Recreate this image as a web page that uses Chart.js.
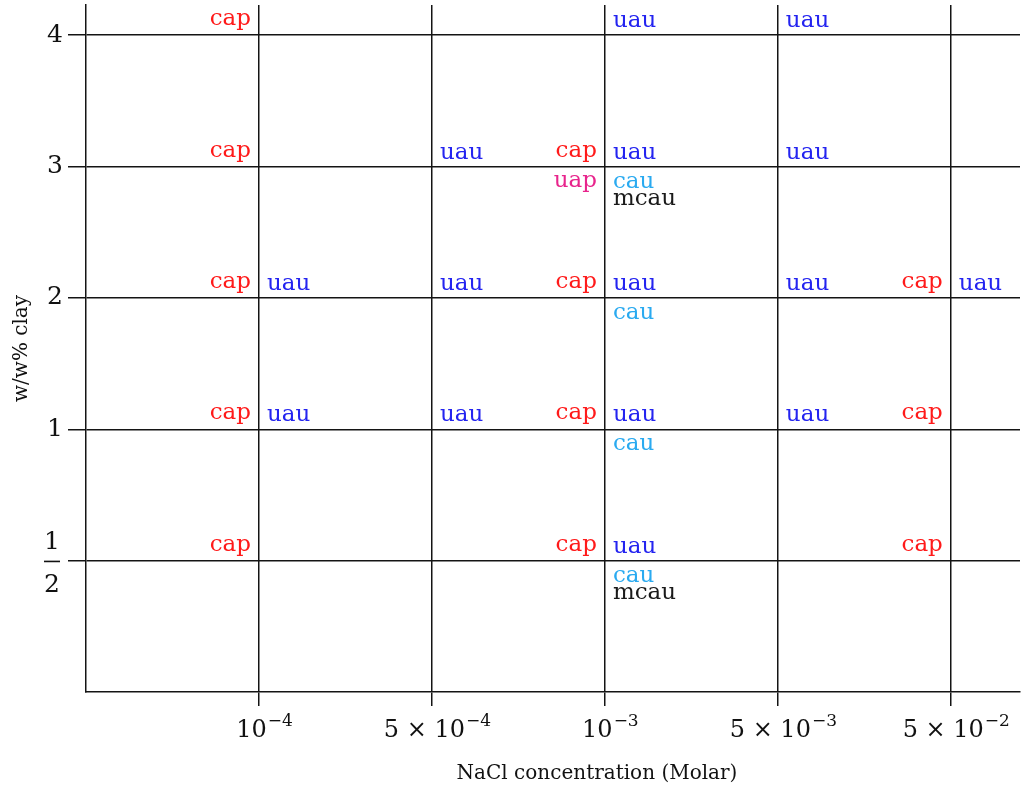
<!DOCTYPE html>
<html>
<head>
<meta charset="utf-8">
<script src="https://cdn.jsdelivr.net/npm/chart.js@4.4.1/dist/chart.umd.min.js"></script>
<style>
    html, body { margin: 0; padding: 0; background: #fff; }
    #wrap { width: 1024px; height: 789px; position: relative; }
</style>
</head>
<body>
<div id="wrap"><canvas id="phaseChart"></canvas></div>
<script>
// NaCl concentration (Molar), one grid column each
const concentrations = ['1e-4', '5e-4', '1e-3', '5e-3', '5e-2'];
// clay content (w/w%), one grid row each
const clayLevels = ['1/2', '1', '2', '3', '4'];

// phases seen, as [concentration, clay]
const capPoints = [
    ['1e-4', '4'], ['1e-4', '3'], ['1e-4', '2'], ['1e-4', '1'], ['1e-4', '1/2'],
    ['1e-3', '3'], ['1e-3', '2'], ['1e-3', '1'], ['1e-3', '1/2'],
    ['5e-2', '2'], ['5e-2', '1'], ['5e-2', '1/2']
];
const uauPoints = [
    ['1e-4', '2'], ['1e-4', '1'],
    ['5e-4', '3'], ['5e-4', '2'], ['5e-4', '1'],
    ['1e-3', '4'], ['1e-3', '3'], ['1e-3', '2'], ['1e-3', '1'], ['1e-3', '1/2'],
    ['5e-3', '4'], ['5e-3', '3'], ['5e-3', '2'], ['5e-3', '1'],
    ['5e-2', '2']
];
const uapPoints = [['1e-3', '3']];
const cauPoints = [['1e-3', '3'], ['1e-3', '2'], ['1e-3', '1'], ['1e-3', '1/2']];
const mcauPoints = [['1e-3', '3'], ['1e-3', '1/2']];

const FONT = '"DejaVu Serif", "Liberation Serif", serif';
const LINE = '#141414';

// where each phase name sits around its grid crossing
const placement = {
    cap:  { align: 'right', dx: -8, dy: -10 },
    uau:  { align: 'left',  dx: 8,  dy: -8 },
    uap:  { align: 'right', dx: -8, dy: 20 },
    cau:  { align: 'left',  dx: 8,  dy: 21 },
    mcau: { align: 'left',  dx: 8,  dy: 38 }
};

function toXY(list) {
    return list.map(p => ({
        x: concentrations.indexOf(p[0]) + 1,
        y: clayLevels.indexOf(p[1]) + 1
    }));
}

function phaseSet(name, list, color) {
    return { label: name, data: toXY(list), borderColor: color, backgroundColor: color, pointRadius: 0, pointHoverRadius: 0 };
}

const phaseText = {
    id: 'phaseText',
    afterDatasetsDraw(chart) {
        const ctx = chart.ctx;
        ctx.save();
        ctx.font = '23px ' + FONT;
        ctx.textBaseline = 'alphabetic';
        chart.data.datasets.forEach((ds, i) => {
            const st = placement[ds.label];
            ctx.fillStyle = ds.borderColor;
            ctx.textAlign = st.align;
            chart.getDatasetMeta(i).data.forEach(pt => {
                ctx.fillText(ds.label, pt.x + st.dx, pt.y + st.dy);
            });
        });
        ctx.restore();
    }
};

const axisText = {
    id: 'axisText',
    afterDraw(chart) {
        const ctx = chart.ctx;
        const xs = chart.scales.x, ys = chart.scales.y;
        const area = chart.chartArea;
        ctx.save();
        ctx.fillStyle = '#111';
        ctx.textAlign = 'left';
        ctx.textBaseline = 'alphabetic';

        // x ticks: m x 10^e
        concentrations.forEach((c, i) => {
            const parts = c.split('e');
            const base = (parts[0] === '1' ? '' : parts[0] + ' \u00d7 ') + '10';
            const exp = '\u2212' + parts[1].replace('-', '');
            ctx.font = '24px ' + FONT;
            const wb = ctx.measureText(base).width;
            ctx.font = '17px ' + FONT;
            const we = ctx.measureText(exp).width;
            const x0 = xs.getPixelForValue(i + 1) - (wb + we) / 2 + 5;
            ctx.font = '24px ' + FONT;
            ctx.fillText(base, x0, area.bottom + 45);
            ctx.font = '17px ' + FONT;
            ctx.fillText(exp, x0 + wb + 1, area.bottom + 34);
        });

        // y ticks, 1/2 as a stacked fraction
        clayLevels.forEach((lv, i) => {
            const y = ys.getPixelForValue(i + 1);
            ctx.font = '25px ' + FONT;
            if (lv.indexOf('/') > 0) {
                const f = lv.split('/');
                const cx = 52;
                ctx.textAlign = 'center';
                ctx.fillText(f[0], cx, y - 12);
                ctx.fillText(f[1], cx, y + 31);
                ctx.fillRect(cx - 8, y, 16, 1.6);
            } else {
                ctx.textAlign = 'right';
                ctx.textBaseline = 'middle';
                ctx.fillText(lv, 63, y);
                ctx.textBaseline = 'alphabetic';
            }
        });

        // axis titles
        ctx.font = '20px ' + FONT;
        ctx.textAlign = 'center';
        ctx.fillText('NaCl concentration (Molar)', 597, 779);
        ctx.translate(27, (area.top + area.bottom) / 2);
        ctx.rotate(-Math.PI / 2);
        ctx.fillText('w/w% clay', 0, 0);
        ctx.restore();
    }
};

const ctx = document.getElementById('phaseChart');
new Chart(ctx.getContext('2d'), {
    type: 'scatter',
    data: {
        datasets: [
            phaseSet('cap', capPoints, '#ff1a1a'),
            phaseSet('uau', uauPoints, '#2424f0'),
            phaseSet('uap', uapPoints, '#e8248c'),
            phaseSet('cau', cauPoints, '#2aaaf0'),
            phaseSet('mcau', mcauPoints, '#1a1a1a')
        ]
    },
    options: {
        responsive: true,
        maintainAspectRatio: false,
        animation: false,
        events: [],
        layout: { padding: { left: 68, right: 4, top: 5, bottom: 83 } },
        plugins: {
            legend: { display: false },
            tooltip: { enabled: false }
        },
        scales: {
            x: {
                type: 'linear',
                min: 0,
                max: 5.4,
                afterBuildTicks: s => { s.ticks = concentrations.map((c, i) => ({ value: i + 1 })); },
                ticks: { display: false },
                grid: { color: LINE, lineWidth: 1.5, tickLength: 14, drawTicks: true },
                border: { display: true, color: LINE, width: 1.5 }
            },
            y: {
                type: 'linear',
                min: 0,
                max: 5.23,
                afterBuildTicks: s => { s.ticks = clayLevels.map((c, i) => ({ value: i + 1 })); },
                ticks: { display: false },
                grid: { color: LINE, lineWidth: 1.5, tickLength: 18, drawTicks: true },
                border: { display: true, color: LINE, width: 1.5 }
            }
        }
    },
    plugins: [phaseText, axisText]
});
</script>
</body>
</html>
